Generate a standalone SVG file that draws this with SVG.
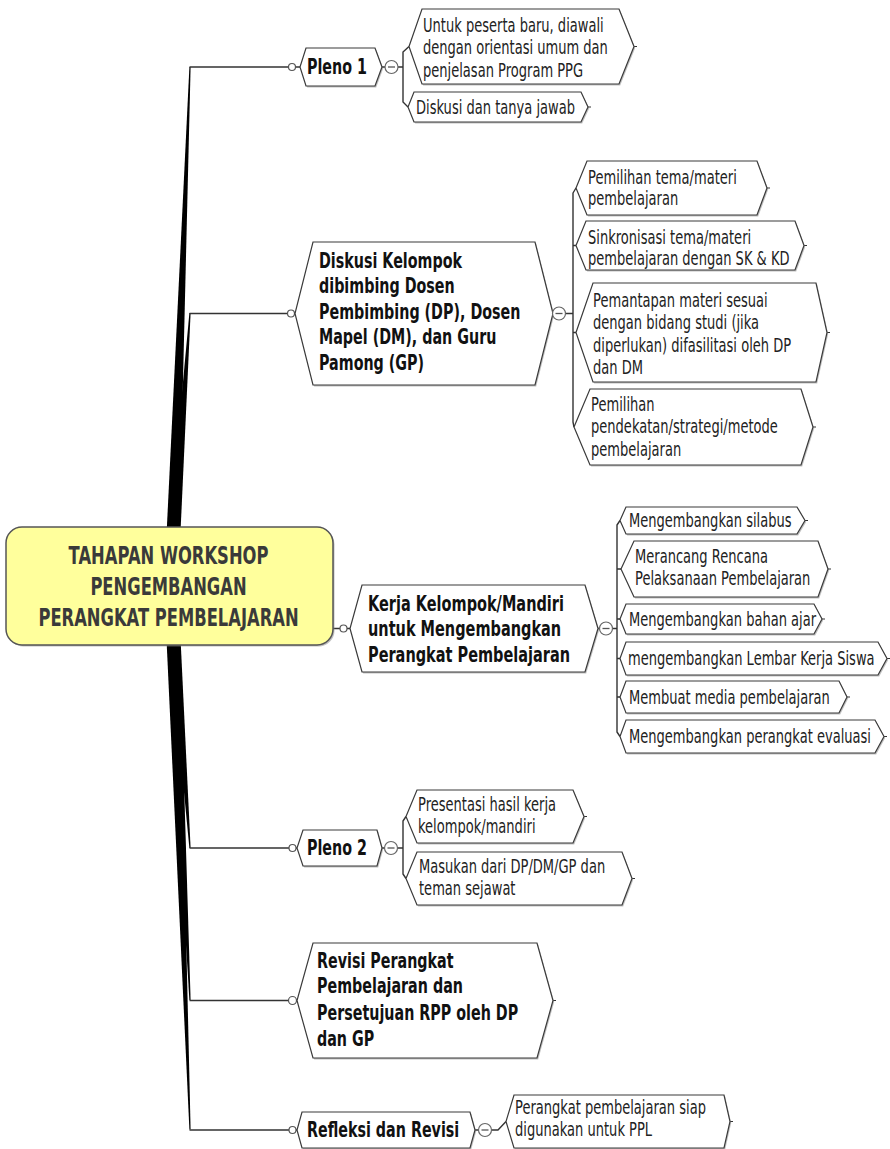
<svg xmlns="http://www.w3.org/2000/svg" width="890" height="1149" viewBox="0 0 890 1149">
<style>
.bg{fill:#ffffff}
.wedge{fill:#000000}
.ln{fill:none;stroke:#333333;stroke-width:1.4;stroke-linejoin:round}
.dot{fill:#ffffff;stroke:#555555;stroke-width:1.2}
.tick{fill:none;stroke:#333333;stroke-width:1.2}
.shape{fill:#ffffff;stroke:#3a3a3a;stroke-width:1.2;stroke-linejoin:miter}
.shadow{fill:#8a8a8a;opacity:0.55}
.root{fill:#ffff9c;stroke:#555555;stroke-width:1.5}
.btn{fill:#ffffff;stroke:#666666;stroke-width:1.2}
.minus{stroke:#555555;stroke-width:1.3}
.rt{font-family:"DejaVu Sans","Liberation Sans",sans-serif;font-weight:bold;font-size:24.6px;fill:#3a3a3a;text-anchor:middle}
.mt{font-family:"DejaVu Sans","Liberation Sans",sans-serif;font-weight:bold;font-size:21.5px;fill:#111111}
.lt{font-family:"DejaVu Sans","Liberation Sans",sans-serif;font-size:19.2px;fill:#222222}
</style>
<defs>
<g id="minusbtn"><circle class="btn" cx="0" cy="0" r="6.5"/><line class="minus" x1="-3.5" y1="0" x2="3.5" y2="0"/></g>
</defs>
<rect class="bg" x="0" y="0" width="890" height="1149"/>

<g id="connectors">
  <polygon class="wedge" points="164,586 178,586 190.6,67 189.4,67"/>
  <polygon class="wedge" points="164,586 178,586 190.6,313 189.4,313"/>
  <polygon class="wedge" points="164,586 178,586 190.6,848 189.4,848"/>
  <polygon class="wedge" points="164,586 178,586 190.6,1000 189.4,1000"/>
  <polygon class="wedge" points="164,586 178,586 190.6,1129.5 189.4,1129.5"/>
  <path class="ln" d="M189.5,67 H288.5 M295.5,67 H300"/>
  <path class="ln" d="M189.5,313.5 H287.5 M294.5,313.5 H295"/>
  <path class="ln" d="M333,628.5 H340 M347,628.5 H350"/>
  <path class="ln" d="M189.5,848 H289 M296,848 H297"/>
  <path class="ln" d="M189.5,1000.5 H288.5 M296.5,1000.5 H297"/>
  <path class="ln" d="M189.5,1130 H289 M296,1130 H297"/>
  <circle class="dot" cx="292" cy="67" r="3.5"/>
  <circle class="dot" cx="291" cy="313.5" r="3.5"/>
  <circle class="dot" cx="343.5" cy="628.5" r="3.5"/>
  <circle class="dot" cx="292.5" cy="848" r="3.5"/>
  <circle class="dot" cx="292.5" cy="1000.5" r="4"/>
  <circle class="dot" cx="292.5" cy="1130" r="3.5"/>
  <path class="ln" d="M382,67 H385 M398,67 H403 M409,46.5 L403,52 V102 L408,107"/>
  <path class="ln" d="M553,313.5 H552.5 M565.5,313.5 H573 M576,188 L573,193 V422 L574,427 M573,245.5 H576 M573,332.5 H576"/>
  <path class="ln" d="M598,628.5 H599.5 M612.5,628.5 H617 M620,520.5 L617,525 V732 L620,736.5 M617,569 H621 M617,619 H620 M617,658.5 H620 M617,697 H620"/>
  <path class="ln" d="M382,848 H384.5 M397.5,848 H403 M406,816.5 L403,821 V874 L406,878.5"/>
  <path class="ln" d="M475,1130 H478.5 M491.5,1130 H498 L506,1121.5"/>
  <path class="tick" d="M634,46.5 h3 M588,107 h3 M767,188 h3 M804,245.5 h3 M827,332.5 h3 M813,427 h3 M805,520.5 h3 M828,569 h3 M822,619 h3 M887,658.5 h3 M847,697 h3 M884,736.5 h3 M584,816.5 h3 M632,878.5 h3 M553,1000.5 h3 M730,1121.5 h3"/>
</g>

<g id="root">
  <rect class="shadow" x="7.5" y="528.5" width="327" height="118" rx="16"/>
  <rect class="root" x="6" y="527" width="327" height="118" rx="16"/>
  <text class="rt" transform="matrix(0.665 0 0 1 168.5 0)"><tspan x="0" y="564">TAHAPAN WORKSHOP</tspan><tspan x="0" y="595">PENGEMBANGAN</tspan><tspan x="0" y="626">PERANGKAT PEMBELAJARAN</tspan></text>
</g>

<g id="pleno1">
  <polygon class="shadow" transform="translate(1.2,1.6)" points="306,48 375,48 382,67 375,86 306,86 300,67"/>
  <polygon class="shape" points="306,48 375,48 382,67 375,86 306,86 300,67"/>
  <text class="mt" transform="matrix(0.665 0 0 1 307 0)"><tspan x="0" y="74.5">Pleno 1</tspan></text>
  <use href="#minusbtn" x="391.5" y="67"/>
</g>
<g id="pleno1-a">
  <polygon class="shadow" transform="translate(1.2,1.6)" points="422,9 619,9 634,46.5 619,84 422,84 409,46.5"/>
  <polygon class="shape" points="422,9 619,9 634,46.5 619,84 422,84 409,46.5"/>
  <text class="lt" transform="matrix(0.68 0 0 1 423 0)"><tspan x="0" y="32">Untuk peserta baru, diawali</tspan><tspan x="0" y="54.5">dengan orientasi umum dan</tspan><tspan x="0" y="77">penjelasan Program PPG</tspan></text>
</g>
<g id="pleno1-b">
  <polygon class="shadow" transform="translate(1.2,1.6)" points="414,92 581,92 588,107 581,122 414,122 408,107"/>
  <polygon class="shape" points="414,92 581,92 588,107 581,122 414,122 408,107"/>
  <text class="lt" transform="matrix(0.68 0 0 1 416 0)"><tspan x="0" y="114">Diskusi dan tanya jawab</tspan></text>
</g>

<g id="diskusi">
  <polygon class="shadow" transform="translate(1.2,1.6)" points="313,242 535,242 553,313.5 535,385 313,385 295,313.5"/>
  <polygon class="shape" points="313,242 535,242 553,313.5 535,385 313,385 295,313.5"/>
  <text class="mt" transform="matrix(0.665 0 0 1 319 0)"><tspan x="0" y="268">Diskusi Kelompok</tspan><tspan x="0" y="293.5">dibimbing Dosen</tspan><tspan x="0" y="319">Pembimbing (DP), Dosen</tspan><tspan x="0" y="344.5">Mapel (DM), dan Guru</tspan><tspan x="0" y="370">Pamong (GP)</tspan></text>
  <use href="#minusbtn" x="559" y="313.5"/>
</g>
<g id="diskusi-a">
  <polygon class="shadow" transform="translate(1.2,1.6)" points="587,161 757,161 767,188 757,215 587,215 576,188"/>
  <polygon class="shape" points="587,161 757,161 767,188 757,215 587,215 576,188"/>
  <text class="lt" transform="matrix(0.68 0 0 1 588 0)"><tspan x="0" y="184">Pemilihan tema/materi</tspan><tspan x="0" y="205.5">pembelajaran</tspan></text>
</g>
<g id="diskusi-b">
  <polygon class="shadow" transform="translate(1.2,1.6)" points="586,221 795,221 804,245.5 795,270 586,270 576,245.5"/>
  <polygon class="shape" points="586,221 795,221 804,245.5 795,270 586,270 576,245.5"/>
  <text class="lt" transform="matrix(0.68 0 0 1 588 0)"><tspan x="0" y="244">Sinkronisasi tema/materi</tspan><tspan x="0" y="265.5">pembelajaran dengan SK &amp; KD</tspan></text>
</g>
<g id="diskusi-c">
  <polygon class="shadow" transform="translate(1.2,1.6)" points="593,283 816,283 827,332.5 816,382 593,382 576,332.5"/>
  <polygon class="shape" points="593,283 816,283 827,332.5 816,382 593,382 576,332.5"/>
  <text class="lt" transform="matrix(0.68 0 0 1 593 0)"><tspan x="0" y="307">Pemantapan materi sesuai</tspan><tspan x="0" y="329.5">dengan bidang studi (jika</tspan><tspan x="0" y="352">diperlukan) difasilitasi oleh DP</tspan><tspan x="0" y="374.5">dan DM</tspan></text>
</g>
<g id="diskusi-d">
  <polygon class="shadow" transform="translate(1.2,1.6)" points="590,389 801,389 813,427 801,465 590,465 574,427"/>
  <polygon class="shape" points="590,389 801,389 813,427 801,465 590,465 574,427"/>
  <text class="lt" transform="matrix(0.68 0 0 1 591 0)"><tspan x="0" y="411">Pemilihan</tspan><tspan x="0" y="433.5">pendekatan/strategi/metode</tspan><tspan x="0" y="456">pembelajaran</tspan></text>
</g>

<g id="kerja">
  <polygon class="shadow" transform="translate(1.2,1.6)" points="362,585 585,585 598,628.5 585,672 362,672 350,628.5"/>
  <polygon class="shape" points="362,585 585,585 598,628.5 585,672 362,672 350,628.5"/>
  <text class="mt" transform="matrix(0.675 0 0 1 368 0)"><tspan x="0" y="611">Kerja Kelompok/Mandiri</tspan><tspan x="0" y="636.5">untuk Mengembangkan</tspan><tspan x="0" y="662">Perangkat Pembelajaran</tspan></text>
  <use href="#minusbtn" x="606" y="628.5"/>
</g>
<g id="kerja-a">
  <polygon class="shadow" transform="translate(1.2,1.6)" points="626,507 797,507 805,520.5 797,534 626,534 620,520.5"/>
  <polygon class="shape" points="626,507 797,507 805,520.5 797,534 626,534 620,520.5"/>
  <text class="lt" transform="matrix(0.68 0 0 1 629 0)"><tspan x="0" y="527">Mengembangkan silabus</tspan></text>
</g>
<g id="kerja-b">
  <polygon class="shadow" transform="translate(1.2,1.6)" points="634,541 818,541 828,569 818,597 634,597 621,569"/>
  <polygon class="shape" points="634,541 818,541 828,569 818,597 634,597 621,569"/>
  <text class="lt" transform="matrix(0.68 0 0 1 635 0)"><tspan x="0" y="563">Merancang Rencana</tspan><tspan x="0" y="585">Pelaksanaan Pembelajaran</tspan></text>
</g>
<g id="kerja-c">
  <polygon class="shadow" transform="translate(1.2,1.6)" points="626,604 814,604 822,619 814,634 626,634 620,619"/>
  <polygon class="shape" points="626,604 814,604 822,619 814,634 626,634 620,619"/>
  <text class="lt" transform="matrix(0.68 0 0 1 629 0)"><tspan x="0" y="626">Mengembangkan bahan ajar</tspan></text>
</g>
<g id="kerja-d">
  <polygon class="shadow" transform="translate(1.2,1.6)" points="626,642 878,642 887,658.5 878,675 626,675 620,658.5"/>
  <polygon class="shape" points="626,642 878,642 887,658.5 878,675 626,675 620,658.5"/>
  <text class="lt" transform="matrix(0.68 0 0 1 628 0)"><tspan x="0" y="665.5">mengembangkan Lembar Kerja Siswa</tspan></text>
</g>
<g id="kerja-e">
  <polygon class="shadow" transform="translate(1.2,1.6)" points="626,681 839,681 847,697 839,713 626,713 620,697"/>
  <polygon class="shape" points="626,681 839,681 847,697 839,713 626,713 620,697"/>
  <text class="lt" transform="matrix(0.68 0 0 1 629 0)"><tspan x="0" y="704">Membuat media pembelajaran</tspan></text>
</g>
<g id="kerja-f">
  <polygon class="shadow" transform="translate(1.2,1.6)" points="626,720 875,720 884,736.5 875,753 626,753 620,736.5"/>
  <polygon class="shape" points="626,720 875,720 884,736.5 875,753 626,753 620,736.5"/>
  <text class="lt" transform="matrix(0.68 0 0 1 629 0)"><tspan x="0" y="743.5">Mengembangkan perangkat evaluasi</tspan></text>
</g>

<g id="pleno2">
  <polygon class="shadow" transform="translate(1.2,1.6)" points="303,830 377,830 382,848 377,866 303,866 297,848"/>
  <polygon class="shape" points="303,830 377,830 382,848 377,866 303,866 297,848"/>
  <text class="mt" transform="matrix(0.665 0 0 1 307 0)"><tspan x="0" y="855.5">Pleno 2</tspan></text>
  <use href="#minusbtn" x="391" y="848"/>
</g>
<g id="pleno2-a">
  <polygon class="shadow" transform="translate(1.2,1.6)" points="417,790 573,790 584,816.5 573,843 417,843 406,816.5"/>
  <polygon class="shape" points="417,790 573,790 584,816.5 573,843 417,843 406,816.5"/>
  <text class="lt" transform="matrix(0.68 0 0 1 418 0)"><tspan x="0" y="811">Presentasi hasil kerja</tspan><tspan x="0" y="833">kelompok/mandiri</tspan></text>
</g>
<g id="pleno2-b">
  <polygon class="shadow" transform="translate(1.2,1.6)" points="417,852 622,852 632,878.5 622,905 417,905 406,878.5"/>
  <polygon class="shape" points="417,852 622,852 632,878.5 622,905 417,905 406,878.5"/>
  <text class="lt" transform="matrix(0.68 0 0 1 419 0)"><tspan x="0" y="873.5">Masukan dari DP/DM/GP dan</tspan><tspan x="0" y="895">teman sejawat</tspan></text>
</g>

<g id="revisi">
  <polygon class="shadow" transform="translate(1.2,1.6)" points="313,943 537,943 553,1000.5 537,1058 313,1058 297,1000.5"/>
  <polygon class="shape" points="313,943 537,943 553,1000.5 537,1058 313,1058 297,1000.5"/>
  <text class="mt" transform="matrix(0.665 0 0 1 317 0)"><tspan x="0" y="968">Revisi Perangkat</tspan><tspan x="0" y="993.5">Pembelajaran dan</tspan><tspan x="0" y="1020">Persetujuan RPP oleh DP</tspan><tspan x="0" y="1046">dan GP</tspan></text>
</g>

<g id="refleksi">
  <polygon class="shadow" transform="translate(1.2,1.6)" points="302,1112 470,1112 475,1130 470,1148 302,1148 297,1130"/>
  <polygon class="shape" points="302,1112 470,1112 475,1130 470,1148 302,1148 297,1130"/>
  <text class="mt" transform="matrix(0.665 0 0 1 307 0)"><tspan x="0" y="1137">Refleksi dan Revisi</tspan></text>
  <use href="#minusbtn" x="485" y="1130"/>
</g>
<g id="refleksi-a">
  <polygon class="shadow" transform="translate(1.2,1.6)" points="514,1095 724,1095 730,1121.5 724,1148 514,1148 506,1121.5"/>
  <polygon class="shape" points="514,1095 724,1095 730,1121.5 724,1148 514,1148 506,1121.5"/>
  <text class="lt" transform="matrix(0.68 0 0 1 515 0)"><tspan x="0" y="1114.5">Perangkat pembelajaran siap</tspan><tspan x="0" y="1136.5">digunakan untuk PPL</tspan></text>
</g>
</svg>
